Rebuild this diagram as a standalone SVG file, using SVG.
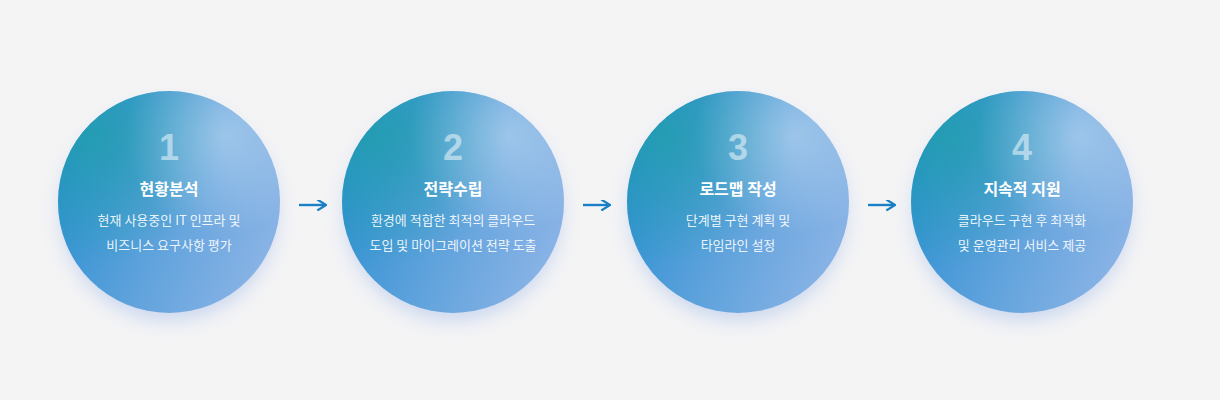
<svg xmlns="http://www.w3.org/2000/svg" width="1220" height="400" viewBox="0 0 1220 400">
<defs>
<linearGradient id="g" x1="0" y1="0.3" x2="1" y2="0.7">
<stop offset="0" stop-color="#2a8ed2"/>
<stop offset="0.5" stop-color="#5ea2dc"/>
<stop offset="1" stop-color="#8cb4e6"/>
</linearGradient>
<radialGradient id="tl" cx="0.15" cy="0.2" r="0.6">
<stop offset="0" stop-color="#1fa0a8" stop-opacity="0.75"/>
<stop offset="1" stop-color="#1fa0a8" stop-opacity="0"/>
</radialGradient>
<radialGradient id="tr" cx="0.75" cy="0.2" r="0.45">
<stop offset="0" stop-color="#fff" stop-opacity="0.35"/>
<stop offset="1" stop-color="#fff" stop-opacity="0"/>
</radialGradient>
<filter id="s" x="-40%" y="-40%" width="180%" height="180%"><feGaussianBlur stdDeviation="10"/></filter>
<marker id="a" viewBox="0 0 10 10" refX="8" refY="5" markerWidth="11" markerHeight="11" markerUnits="userSpaceOnUse" orient="auto"><path d="M1,0 L9,5 L1,10" fill="none" stroke="#1a7fc4" stroke-width="2"/></marker>
</defs>
<style>
.n{font-family:"Liberation Sans",Arial,sans-serif;font-weight:bold;font-size:36px;fill:#fff;fill-opacity:0.5;text-anchor:middle}
.t{font-family:"Noto Sans CJK KR","Noto Sans",sans-serif;font-weight:bold;font-size:16px;fill:#fff;text-anchor:middle}
.d{font-family:"Noto Sans CJK KR","Noto Sans",sans-serif;font-size:13px;fill:#fff;fill-opacity:0.9;text-anchor:middle}
.c{stroke:#1a7fc4;stroke-width:2.4;fill:none}
</style>
<rect width="1220" height="400" fill="#f4f4f5"/>
<g id="node1"><circle cx="169" cy="212" r="108" fill="#9db8e8" opacity="0.5" filter="url(#s)"/><circle cx="169" cy="202" r="111" fill="url(#g)"/><circle cx="169" cy="202" r="111" fill="url(#tl)"/><circle cx="169" cy="202" r="111" fill="url(#tr)"/>
<text class="n" x="169" y="160">1</text><text class="t" x="169" y="195">현황분석</text><text class="d" x="169" y="225">현재 사용중인 IT 인프라 및</text><text class="d" x="169" y="250">비즈니스 요구사항 평가</text></g>
<g id="node2"><circle cx="453" cy="212" r="108" fill="#9db8e8" opacity="0.5" filter="url(#s)"/><circle cx="453" cy="202" r="111" fill="url(#g)"/><circle cx="453" cy="202" r="111" fill="url(#tl)"/><circle cx="453" cy="202" r="111" fill="url(#tr)"/>
<text class="n" x="453" y="160">2</text><text class="t" x="453" y="195">전략수립</text><text class="d" x="453" y="225">환경에 적합한 최적의 클라우드</text><text class="d" x="453" y="250">도입 및 마이그레이션 전략 도출</text></g>
<g id="node3"><circle cx="738" cy="212" r="108" fill="#9db8e8" opacity="0.5" filter="url(#s)"/><circle cx="738" cy="202" r="111" fill="url(#g)"/><circle cx="738" cy="202" r="111" fill="url(#tl)"/><circle cx="738" cy="202" r="111" fill="url(#tr)"/>
<text class="n" x="738" y="160">3</text><text class="t" x="738" y="195">로드맵 작성</text><text class="d" x="738" y="225">단계별 구현 계획 및</text><text class="d" x="738" y="250">타임라인 설정</text></g>
<g id="node4"><circle cx="1022" cy="212" r="108" fill="#9db8e8" opacity="0.5" filter="url(#s)"/><circle cx="1022" cy="202" r="111" fill="url(#g)"/><circle cx="1022" cy="202" r="111" fill="url(#tl)"/><circle cx="1022" cy="202" r="111" fill="url(#tr)"/>
<text class="n" x="1022" y="160">4</text><text class="t" x="1022" y="195">지속적 지원</text><text class="d" x="1022" y="225">클라우드 구현 후 최적화</text><text class="d" x="1022" y="250">및 운영관리 서비스 제공</text></g>
<g id="connectors">
<line class="c" x1="299" y1="205" x2="325" y2="205" marker-end="url(#a)"/>
<line class="c" x1="583" y1="205" x2="609" y2="205" marker-end="url(#a)"/>
<line class="c" x1="868" y1="205" x2="894" y2="205" marker-end="url(#a)"/>
</g>
</svg>
